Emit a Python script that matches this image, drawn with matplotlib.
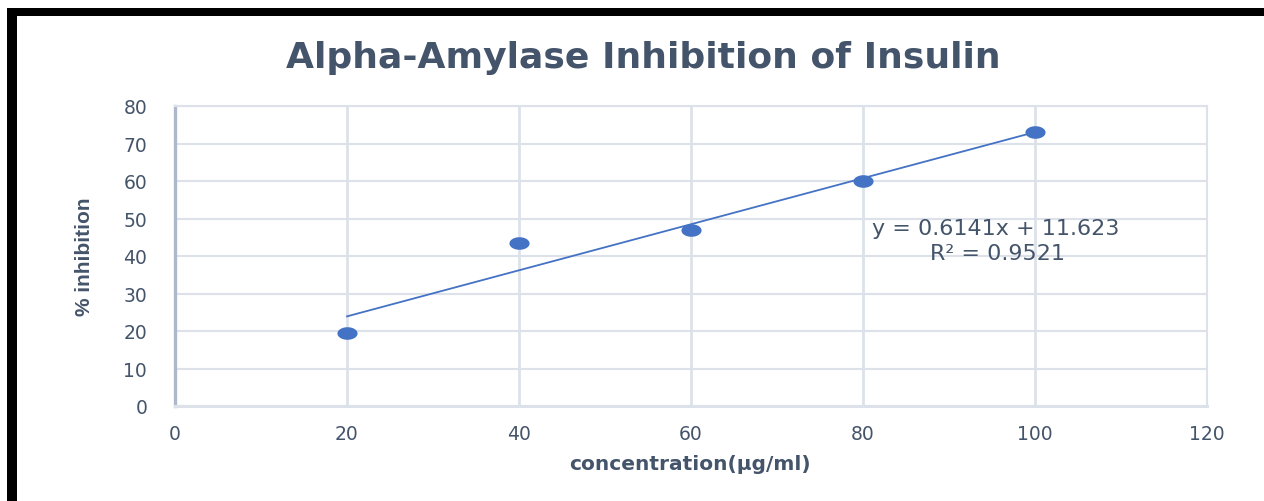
import numpy as np
import matplotlib
matplotlib.use("Agg")
import matplotlib.pyplot as plt
from matplotlib.path import Path
from matplotlib.patches import Rectangle

# ---- data ----
concentration = [20, 40, 60, 80, 100]
inhibition = [19.5, 43.5, 47.0, 60.0, 73.0]
slope = 0.6141
intercept = 11.623
equation_text = "y = 0.6141x + 11.623"
r2_text = "R² = 0.9521"
x_ticks = [0, 20, 40, 60, 80, 100, 120]
y_ticks = [0, 10, 20, 30, 40, 50, 60, 70, 80]
title = "Alpha-Amylase Inhibition of Insulin"
xlabel = "concentration(µg/ml)"
ylabel = "% inhibition"

W, H, DPI = 1264, 502, 100
fig = plt.figure(figsize=(W / DPI, H / DPI), dpi=DPI)
fig.patch.set_facecolor("white")

ax = fig.add_axes([175 / W, 1 - 407 / H, (1207 - 175) / W, (407 - 107) / H])

text_col = "#44546a"
grid_col = "#dde1e9"
blue = "#4472c4"

# elliptical marker (chart is stretched horizontally)
t = np.linspace(0, 2 * np.pi, 60)
ell = Path(np.column_stack([1.6 * np.cos(t), np.sin(t)]), closed=True)

# trendline
xfit = np.array([min(concentration), max(concentration)])
ax.plot(xfit, slope * xfit + intercept, color=blue, lw=1.3, zorder=3)
ax.plot(concentration, inhibition, linestyle="none", marker=ell, markersize=14.5,
        color=blue, markeredgewidth=0, zorder=4)

ax.set_xlim(0, 120)
ax.set_ylim(0, 80)
ax.set_xticks(x_ticks)
ax.set_yticks(y_ticks)

ax.grid(True, axis="y", color=grid_col, lw=1.5)
ax.grid(True, axis="x", color=grid_col, lw=2.0)
ax.set_axisbelow(True)

for s in ["top", "right"]:
    ax.spines[s].set_visible(True)
    ax.spines[s].set_color(grid_col)
    ax.spines[s].set_linewidth(1.5)
ax.spines["bottom"].set_color(grid_col)
ax.spines["bottom"].set_linewidth(2.2)
ax.spines["left"].set_color("#adb8ca")
ax.spines["left"].set_linewidth(2.4)

ax.tick_params(axis="both", length=0, labelsize=13.5, labelcolor=text_col)
ax.tick_params(axis="y", pad=20)
ax.tick_params(axis="x", pad=13)

ax.annotate(equation_text, xy=(996 / W, 1 - 229 / H), xycoords="figure fraction",
            ha="center", va="center", fontsize=16, color=text_col)
ax.annotate(r2_text, xy=(997 / W, 1 - 254 / H), xycoords="figure fraction",
            ha="center", va="center", fontsize=16, color=text_col)

fig.text(643 / W, 1 - 58 / H, title, ha="center", va="center", fontsize=26,
         fontweight="bold", color=text_col)
fig.text(690 / W, 1 - 465 / H, xlabel, ha="center", va="center", fontsize=14.5,
         fontweight="bold", color=text_col)
fig.text(85 / W, 1 - 257 / H, ylabel, ha="center", va="center", fontsize=15,
         fontweight="bold", color=text_col, rotation=90,
         family=["Liberation Sans", "DejaVu Sans"])

# black frame bars (left and top)
fig.add_artist(Rectangle((7 / W, 0), 10 / W, 1 - 9 / H, transform=fig.transFigure,
                         color="black", lw=0))
fig.add_artist(Rectangle((7 / W, 1 - 17 / H), 1 - 7 / W, 8 / H, transform=fig.transFigure,
                         color="black", lw=0))

fig.savefig("out.png", dpi=DPI)
